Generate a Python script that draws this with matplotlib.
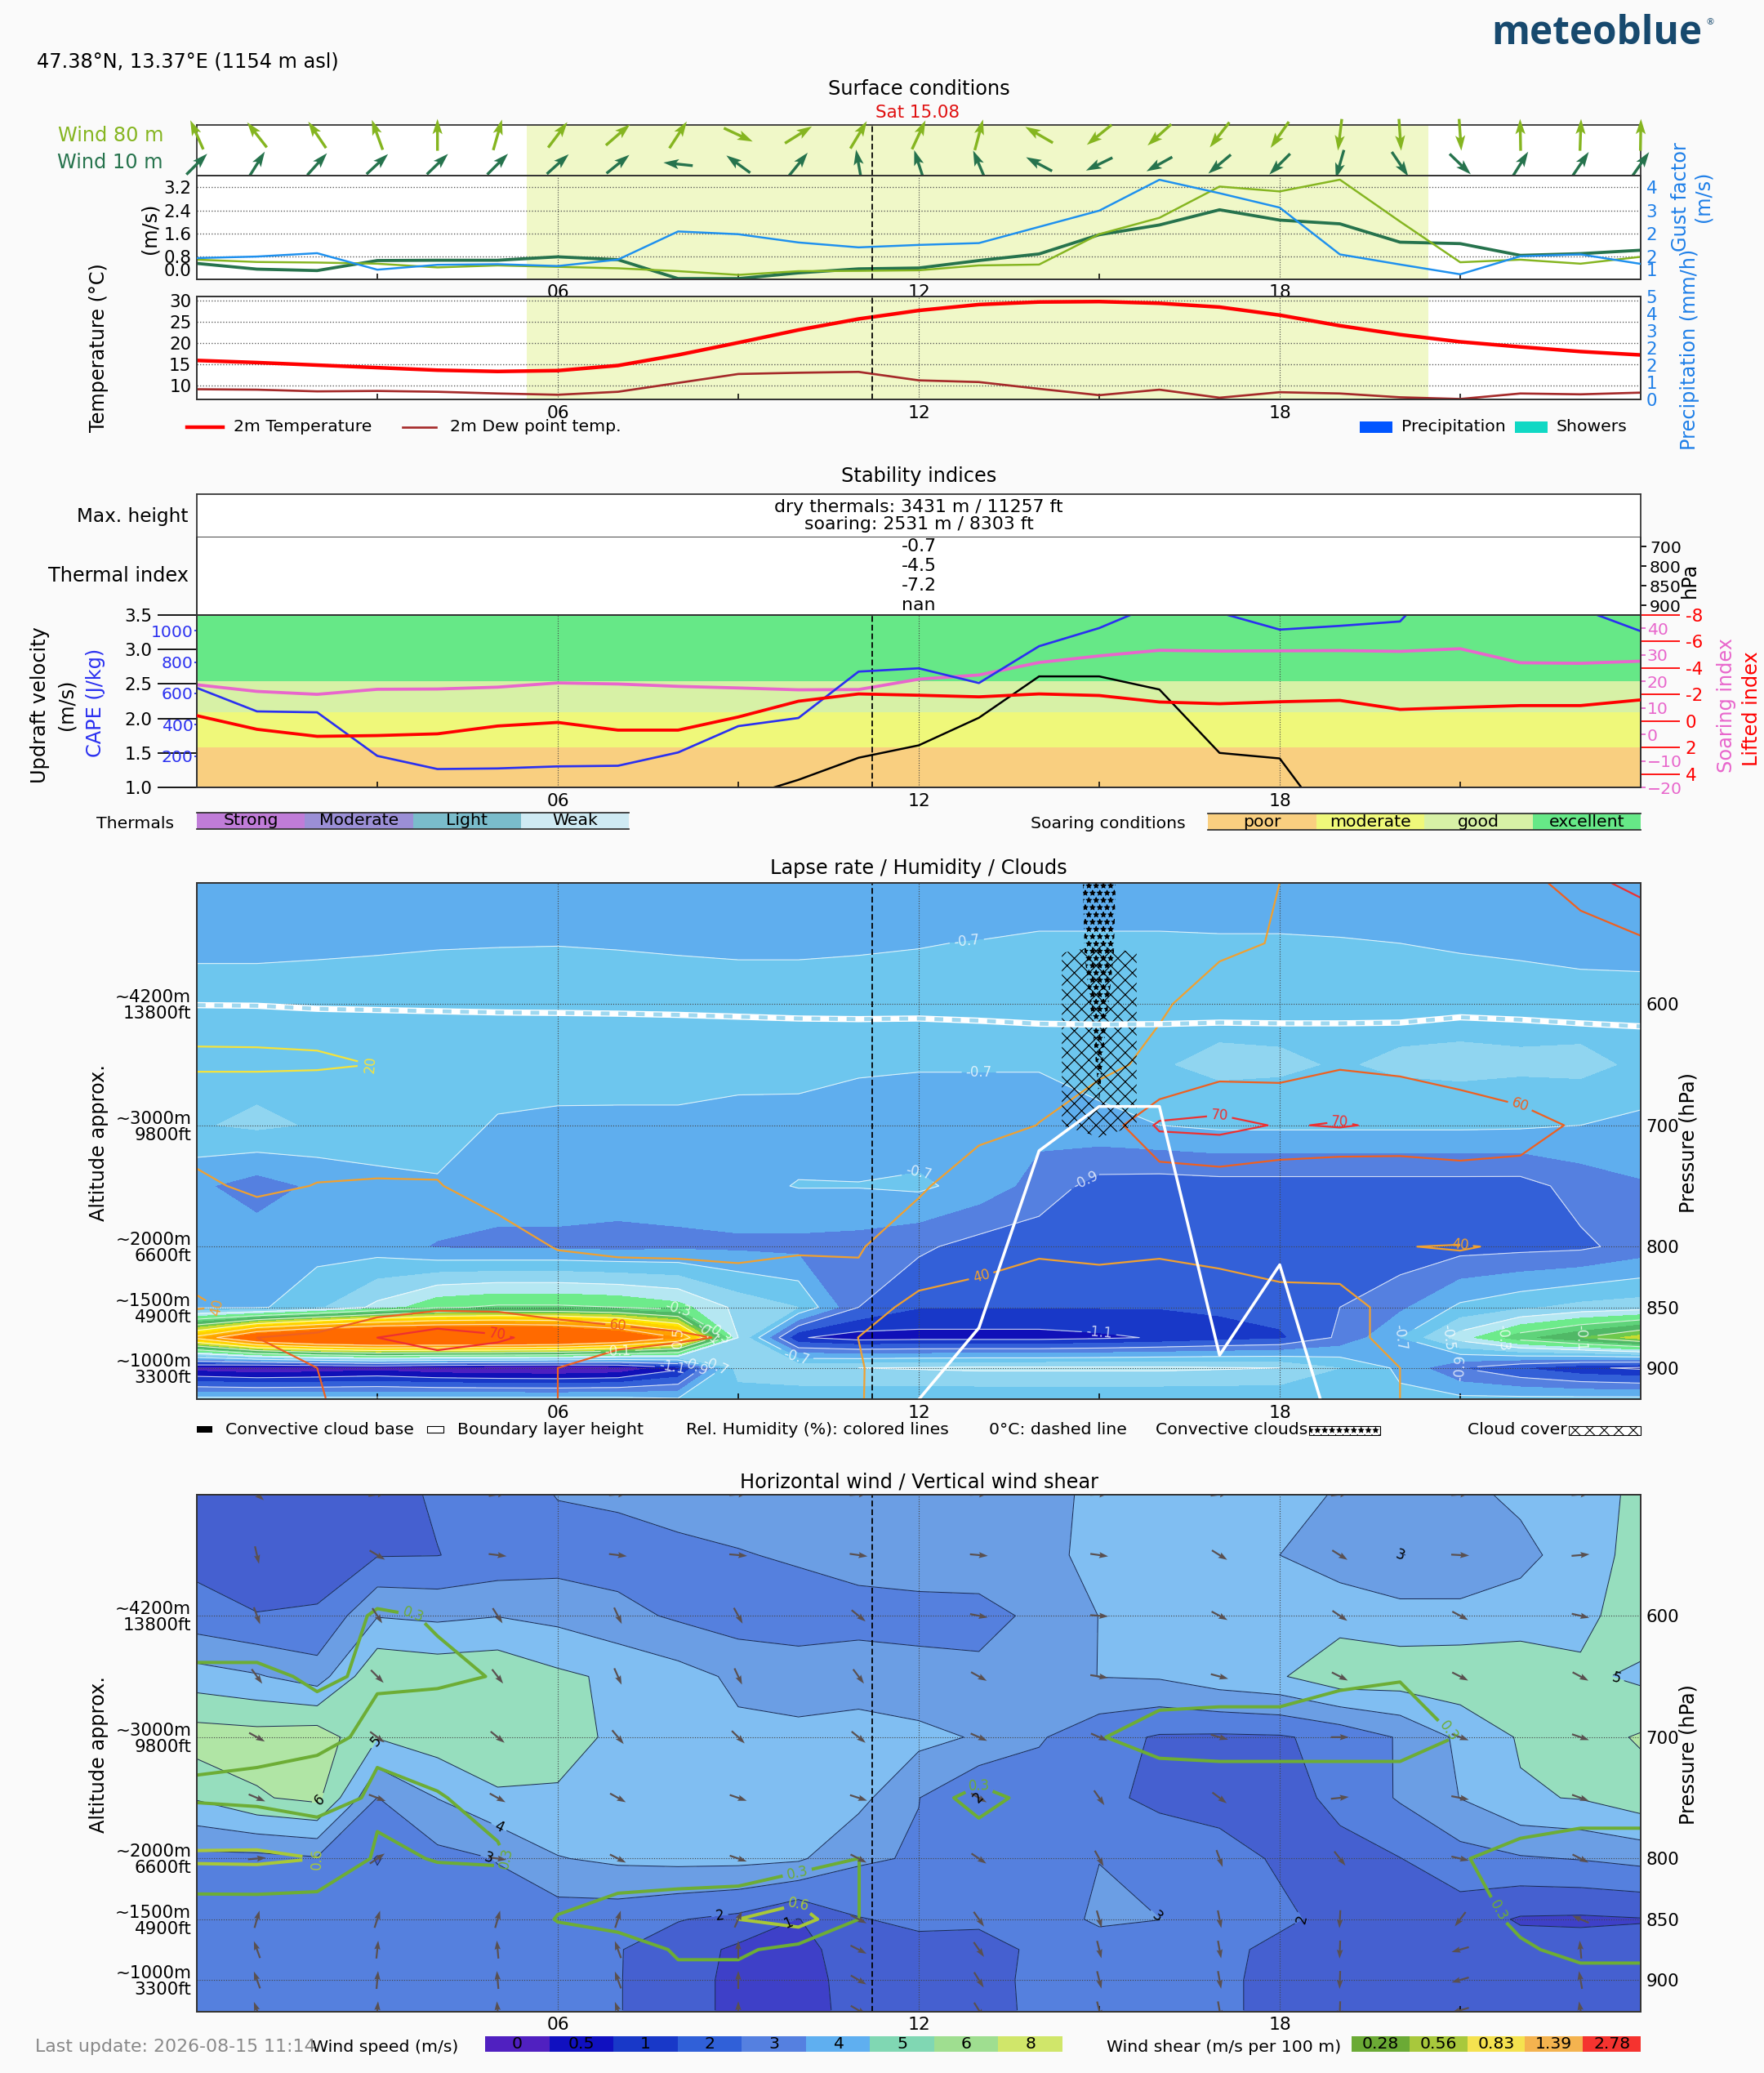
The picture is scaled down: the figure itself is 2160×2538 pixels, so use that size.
import numpy as np
import matplotlib
matplotlib.use("Agg")
import matplotlib.pyplot as plt
from matplotlib.lines import Line2D
from matplotlib.patches import Rectangle

W, H = 2160, 2538
DPI = 160
BG = "#fafafa"

########################
# hourly series

hours = np.arange(25)
now_hour = 11.23
sunrise, sunset = 5.48, 20.47

wind80_dir = [114, 128, 124, 110, 90, 74, 53, 41, 57, -25, 32, 59, 65, 75, 150, -141, -138, -128, -125, -97, -86, -86, 91, 88, 89]
wind10_dir = [45, 58, 48, 43, 44, 45, 42, 39, 174, 144, 51, 100, 108, 113, 152, -154, -151, -140, -135, -106, -56, -44, 58, 56, 55]

wind80 = [.68, .60, .58, .54, .41, .48, .43, .38, .28, .15, .28, .29, .31, .48, .51, 1.57, 2.14, 3.23, 3.06, 3.47, 2.01, .59, .68, .54, .78]
wind10 = [.55, .35, .30, .65, .66, .66, .78, .68, .02, .02, .22, .36, .39, .65, .88, 1.55, 1.89, 2.42, 2.06, 1.93, 1.29, 1.24, .83, .89, 1.01]
gust = [1.69, 1.74, 1.85, 1.31, 1.47, 1.49, 1.43, 1.64, 2.56, 2.47, 2.20, 2.04, 2.12, 2.18, 2.71, 3.24, 4.25, 3.81, 3.34, 1.81, 1.48, 1.16, 1.75, 1.81, 1.50]

temp2m = [15.9, 15.4, 14.8, 14.2, 13.6, 13.3, 13.5, 14.7, 17.2, 20.1, 23.1, 25.7, 27.7, 29.1, 29.7, 29.8, 29.4, 28.5, 26.6, 24.1, 22.0, 20.3, 19.1, 18.0, 17.2]
dewpoint = [9.1, 9.0, 8.6, 8.7, 8.5, 8.1, 7.8, 8.5, 10.6, 12.7, 13.0, 13.2, 11.2, 10.8, 9.2, 7.7, 9.0, 7.1, 8.4, 8.1, 7.2, 6.8, 8.1, 7.9, 8.3]

updraft = [0, 0, 0, 0, 0, 0, 0, 0, 0, .84, 1.11, 1.43, 1.61, 2.01, 2.61, 2.61, 2.42, 1.50, 1.42, .25, 0, 0, 0, 0, 0]
lifted = [-.41, .62, 1.15, 1.09, .96, .37, .10, .68, .68, -.31, -1.5, -2.05, -1.95, -1.83, -2.05, -1.93, -1.44, -1.31, -1.46, -1.56, -.88, -1.03, -1.17, -1.17, -1.6]
soaring = [18.7, 16.2, 15.1, 17.0, 17.1, 17.8, 19.4, 19.0, 18.1, 17.5, 16.8, 16.9, 20.8, 22.4, 27.1, 29.6, 31.7, 31.4, 31.5, 31.6, 31.3, 32.3, 27.0, 26.8, 27.6]
cape = [635, 485, 479, 201, 117, 121, 134, 138, 223, 391, 443, 739, 760, 666, 901, 1017, 1178, 1115, 1007, 1031, 1059, 1470, 1500, 1140, 997]

soaring_bounds = [-20, -4.8, 8.2, 20.1, 45]
soaring_colors = ["#f9cf80", "#eff87a", "#d7f1a6", "#66e887"]
soaring_names = ["poor", "moderate", "good", "excellent"]
thermal_colors = ["#c07cd8", "#9b8fd6", "#7abccb", "#cfeaf3"]
thermal_names = ["Strong", "Moderate", "Light", "Weak"]
index_levels = [700, 800, 850, 900]
index_values = ["-0.7", "-4.5", "-7.2", "nan"]

boundary_layer = [1000, 1000, 1000, 1000, 1000, 1000, 1000, 1000, 1000, 1000, 1000, 1000, 926, 867, 721, 684.5, 684.5, 889.5, 815, 979, 1000, 1000, 1000, 1000, 1000]
freezing_level = [601, 601.5, 604, 605, 606, 607, 607.4, 608, 609, 610.5, 612, 612.5, 612, 613.8, 616.3, 617, 616.6, 615.4, 616, 616, 615.4, 611, 613, 616, 618.5]

########################
# pressure / hour fields

pressure = [500, 550, 600, 650, 700, 750, 800, 850, 875, 900, 925]
pressure_ticks = [600, 700, 800, 850, 900]
altitude_labels = ["~4200m\n13800ft", "~3000m\n9800ft", "~2000m\n6600ft", "~1500m\n4900ft", "~1000m\n3300ft"]

lapse_rate = [
    [-.80, -.80, -.80, -.80, -.80, -.80, -.80, -.80, -.80, -.80, -.80, -.80, -.80, -.79, -.78, -.78, -.78, -.78, -.78, -.79, -.79, -.80, -.80, -.80, -.80],
    [-.72, -.72, -.715, -.71, -.705, -.703, -.702, -.705, -.71, -.715, -.715, -.71, -.705, -.695, -.68, -.68, -.68, -.685, -.685, -.69, -.70, -.71, -.72, -.73, -.735],
    [-.66, -.66, -.66, -.66, -.66, -.66, -.66, -.66, -.66, -.66, -.66, -.66, -.65, -.64, -.64, -.65, -.65, -.65, -.65, -.65, -.65, -.65, -.65, -.66, -.66],
    [-.64, -.64, -.64, -.64, -.64, -.66, -.66, -.66, -.66, -.66, -.66, -.68, -.69, -.69, -.69, -.66, -.61, -.572, -.58, -.61, -.58, -.57, -.58, -.57, -.62],
    [-.61, -.58, -.61, -.66, -.66, -.709, -.719, -.72, -.72, -.74, -.743, -.77, -.77, -.77, -.77, -.727, -.70, -.68, -.68, -.68, -.68, -.68, -.685, -.70, -.727],
    [-.78, -.85, -.78, -.72, -.71, -.76, -.76, -.76, -.76, -.73, -.695, -.695, -.68, -.74, -.84, -.94, -.95, -.94, -.94, -.94, -.94, -.94, -.94, -.86, -.81],
    [-.74, -.74, -.74, -.75, -.81, -.82, -.82, -.83, -.82, -.82, -.83, -.84, -.88, -.94, -.96, -.97, -.97, -.97, -.97, -.97, -.97, -.94, -.93, -.92, -.86],
    [-.72, -.72, -.62, -.47, -.32, -.28, -.28, -.30, -.36, -.53, -.60, -.90, -.995, -.995, -.995, -.995, -.995, -.98, -.95, -.90, -.82, -.68, -.62, -.57, -.55],
    [.35, .80, 1.0, 1.1, 1.1, 1.1, 1.05, .85, .50, -.50, -1.09, -1.15, -1.14, -1.14, -1.14, -1.12, -1.09, -1.05, -1.02, -.88, -.70, -.45, -.24, -.10, .05],
    [-1.26, -1.30, -1.28, -1.25, -1.30, -1.32, -1.33, -1.30, -1.13, -.55, -.52, -.50, -.49, -.48, -.48, -.48, -.48, -.49, -.50, -.60, -.72, -.90, -1.0, -1.08, -1.12],
    [-.68, -.68, -.68, -.68, -.68, -.68, -.68, -.68, -.70, -.66, -.66, -.67, -.68, -.68, -.68, -.68, -.68, -.68, -.68, -.66, -.68, -.68, -.68, -.68, -.68],
]
lapse_bounds = [-2, -1.2, -1.1, -1.0, -.9, -.8, -.7, -.6, -.5, -.4, -.3, -.2, -.1, 0, .1, .2, .3, .4, .5, .6, 2]
lapse_colors = ["#4e20c0", "#1010b8", "#1838c8", "#3360d8", "#5580e0", "#5faeee", "#6dc6ee", "#90d5f0", "#b5e7f2", "#6deb8b",
                "#5fd37a", "#50b866", "#6dc84c", "#c8dc30", "#ffe600", "#ffd000", "#ffb800", "#ffa000", "#ff8c00", "#ff6a00"]
lapse_lines = [-1.1, -.9, -.7, -.5, -.3, -.1, .1, .3, .5]
lapse_label_spots = [(12.8, 549), (13, 653), (12, 737), (14.8, 748), (15, 869), (10, 888), (7, 887), (8, 875), (8, 850), (7.9, 899),
                     (8.28, 899), (8.62, 899), (8.46, 874), (8.65, 873), (20, 875), (20.8, 875), (21.7, 875), (23, 875), (20.9, 899)]

humidity = [
    [30, 30, 30, 30, 30, 30, 30, 30, 30, 30, 30, 31, 31, 32, 32, 33, 34, 35, 40, 45, 48, 50, 55, 66, 74],
    [26, 26, 26, 26, 27, 27, 28, 28, 28, 29, 29, 30, 30, 31, 31, 32, 34, 37, 41, 44, 46, 48, 50, 53, 58],
    [24.7, 25, 25, 25, 26, 27, 28, 28, 29, 29, 30, 30, 31, 31, 32, 33, 38, 47, 50, 52, 52, 50, 48, 47, 46],
    [18, 18, 18.5, 20.2, 24, 27, 28, 29, 30, 30, 30, 31, 32, 33, 36, 36, 44, 55, 56, 59, 58, 55, 52, 48, 45],
    [35, 35, 35, 33, 33, 33, 32, 31, 31, 31, 31, 31, 33, 36, 40.2, 52, 72, 73, 69.25, 70.75, 68.25, 67, 64, 58.5, 52],
    [42, 38, 40.3, 41, 40.8, 33, 32, 31, 31, 31, 32, 35, 38, 48, 58, 55, 52, 54, 53, 50, 52, 55, 56, 52, 48],
    [44, 49, 49, 50, 50, 48, 39, 37, 37, 37, 39, 39, 48, 45, 42, 43, 42, 44, 47, 48, 40.2, 39.5, 41, 44, 46],
    [39, 42, 50, 55, 58, 58, 56, 54, 52, 48, 46, 44.5, 37, 35, 32, 33, 32, 33, 35, 35, 45, 47, 48, 48, 48],
    [55, 60, 62, 70, 75, 71.5, 66, 64, 62, 58.4, 50, 39.9, 33, 33, 32, 32, 32, 33, 34, 35, 45, 47, 48, 50, 50],
    [45, 50, 60, 62, 63, 62, 60, 54, 50, 48, 44, 41, 31, 30, 30, 30, 30, 31, 32, 33, 40, 46, 48, 50, 50],
    [42, 48, 59.5, 63, 63, 62, 60, 52, 48, 46, 43, 41, 30, 30, 30, 30, 30, 31, 32, 33, 40, 45, 47, 48, 48],
]
humidity_levels = [20, 40, 60, 70]
humidity_colors = ["#f5e33c", "#f0a030", "#ee6020", "#ee3030"]
humidity_label_spots = [(3.0, 648), (.45, 849), (13, 818), (21, 799), (7, 865), (22, 683), (5, 871), (17, 690), (19, 695)]

cloud_hours = [14, 15, 16]
cloud_pressure = [540, 552, 558, 700, 710, 720]
cloud_cover = [[0, 0, 0], [0, .5, 0], [0, 1.32, 0], [0, 1.32, 0], [0, .5, 0], [0, 0, 0]]
convective_pressure = [495, 560, 620, 680, 690]
convective_clouds = [[0, .69, 0], [0, .66, 0], [0, .56, 0], [0, .5, 0], [0, .3, 0]]

wind_speed = [
    [1.6, 1.6, 1.6, 1.7, 2.1, 2.4, 3.05, 3.2, 3.3, 3.4, 3.5, 3.6, 3.7, 3.8, 3.9, 4.07, 4.3, 4.3, 4.2, 3.95, 3.5, 3.7, 4.25, 4.6, 5.2],
    [1.7, 1.7, 1.75, 1.95, 1.98, 2.3, 2.55, 2.53, 2.82, 2.95, 3.1, 3.2, 3.3, 3.35, 3.7, 4.3, 4.5, 4.3, 4.0, 3.5, 2.99, 3.1, 3.65, 4.6, 5.3],
    [2.38, 2.02, 2.06, 3.95, 3.8, 3.97, 3.73, 3.31, 2.85, 2.5, 2.6, 2.8, 2.8, 2.8, 3.13, 4.02, 4.4, 4.5, 4.6, 4.6, 4.39, 4.35, 4.57, 4.7, 5.6],
    [4.45, 4.1, 3.5, 5.9, 5.7, 5.8, 5.2, 4.81, 4.4, 3.8, 3.4, 3.3, 3.2, 3.14, 3.5, 4.02, 4.1, 4.6, 4.9, 5.7, 5.6, 5.7, 5.6, 5.2, 4.8],
    [6.5, 6.4, 6.6, 5.05, 5.5, 5.7, 5.3, 4.85, 4.75, 4.2, 4.3, 4.6, 4.3, 3.9, 3.1, 2.37, 1.9, 1.85, 1.9, 2.3, 3.1, 4.2, 5.1, 5.6, 6.1],
    [5.1, 5.9, 6.25, 2.98, 4.02, 4.85, 4.9, 4.7, 4.7, 4.6, 4.6, 4.3, 3.02, 1.98, 2.5, 2.1, 1.9, 1.7, 1.6, 2.25, 3.1, 4.02, 4.9, 5.05, 5.6],
    [2.7, 2.7, 2.9, 1.95, 2.7, 3.03, 3.95, 4.2, 4.3, 4.3, 4.15, 3.15, 2.9, 2.5, 2.6, 2.99, 2.3, 2.3, 1.9, 1.7, 1.98, 2.6, 2.9, 3.05, 3.3],
    [2.5, 2.5, 2.5, 2.4, 2.4, 2.7, 2.45, 2.4, 2.05, 1.75, .97, 1.95, 2.2, 2.1, 2.7, 3.1, 3.01, 2.8, 2.15, 1.75, 1.6, 1.5, .9, .85, .95],
    [2.5, 2.5, 2.5, 2.5, 2.4, 2.4, 2.3, 2.05, 1.5, .8, .75, 1.4, 1.7, 1.8, 2.1, 2.7, 2.6, 2.2, 1.8, 1.7, 1.6, 1.5, 1.4, 1.4, 1.3],
    [2.5, 2.5, 2.5, 2.5, 2.4, 2.4, 2.2, 2.05, 1.4, .75, .7, 1.3, 1.6, 1.7, 2.2, 2.5, 2.5, 2.2, 1.7, 1.7, 1.6, 1.5, 1.4, 1.4, 1.3],
    [2.5, 2.5, 2.5, 2.5, 2.4, 2.4, 2.2, 2.05, 1.4, .75, .7, 1.25, 1.6, 1.65, 2.2, 2.5, 2.5, 2.2, 1.7, 1.7, 1.6, 1.5, 1.4, 1.4, 1.3],
]
speed_bounds = [0, .5, 1, 2, 3, 4, 5, 6, 8, 12]
speed_colors = ["#4e20c0", "#3e40c8", "#4560d0", "#5580de", "#6b9ee4", "#80bef2", "#96debe", "#b0e5a5", "#d4e66f"]
speed_lines = [1, 2, 3, 4, 5, 6]
speed_label_spots = [(20, 550), (4.85, 800), (5, 776), (3, 704), (2.1, 755), (8.7, 850), (9.8, 850), (15.95, 848), (18.5, 852), (13, 750), (23.6, 650)]

shear = [
    [.1] * 25,
    [.1, .1, .1, .15, .15, .1, .1, .1, .1, .1, .1, .1, .1, .1, .1, .1, .1, .1, .1, .1, .1, .1, .1, .1, .1],
    [.2, .2, .2, .32, .29, .25, .2, .15, .15, .15, .15, .15, .15, .15, .15, .15, .15, .15, .15, .15, .15, .15, .15, .15, .15],
    [.33, .33, .28, .32, .32, .295, .2, .15, .15, .15, .15, .15, .15, .15, .15, .15, .2, .2, .2, .27, .29, .22, .15, .15, .15],
    [.35, .36, .36, .25, .22, .2, .15, .1, .1, .1, .1, .1, .1, .1, .2, .29, .38, .4, .4, .4, .4, .29, .2, .2, .2],
    [.27, .24, .16, .35, .31, .25, .2, .15, .15, .15, .15, .15, .23, .35, .25, .2, .15, .15, .15, .15, .15, .2, .2, .2, .2],
    [.65, .66, .6, .26, .31, .32, .18, .1, .05, .05, .17, .301, .2, .2, .2, .15, .15, .15, .15, .15, .15, .29, .35, .4, .4],
    [.05, .05, .05, .15, .15, .15, .31, .45, .55, .6, .74, .301, .2, .2, .2, .15, .15, .15, .15, .15, .15, .15, .36, .4, .4],
    [.05, .05, .05, .05, .05, .05, .2, .1, .34, .35, .2, .1, .1, .1, .1, .1, .1, .1, .1, .1, .1, .1, .26, .38, .38],
    [.05, .05, .05, .05, .05, .05, .1, .1, .22, .2, .1, .1, .1, .1, .1, .1, .1, .1, .1, .1, .1, .2, .2, .2, .2],
    [.05, .05, .05, .05, .05, .05, .05, .1, .1, .1, .1, .1, .1, .1, .1, .1, .1, .1, .1, .1, .1, .1, .1, .1, .1],
]
shear_levels = [.3, .6]
shear_colors = ["#6dad35", "#a8c838"]
shear_label_spots = [(3.6, 598), (5.3, 801), (10, 816), (13, 735), (21, 686), (21.4, 849), (2.2, 800), (10, 837)]

# arrow rows of the wind panel, every second hour, direction in degrees on screen
arrow_hours = [1, 3, 5, 7, 9, 11, 13, 15, 17, 19, 21, 23]
arrow_dir = [
    [-40, 10, 10, 5, 5, 5, 3, 3, 8, 8, 5, 5],
    [-77, -31, -7, -7, -5, -8, -5, -8, -32, -32, -3, 5],
    [-70, -57, -57, -65, -61, -39, -11, -4, -28, -34, -28, -13],
    [-54, -45, -52, -66, -65, -53, -29, -9, -15, -27, -27, -28],
    [-29, -37, -39, -50, -44, -39, -24, -24, -16, 0, -20, -19],
    [-23, -21, -29, -29, -19, -18, -30, -55, -37, 6, -11, -20],
    [5, 34, -8, -27, -19, -27, -34, -61, -70, -52, -13, -27],
    [74, 72, 74, 72, 66, -27, -55, -74, -79, -93, -127, 157],
    [110, 84, 95, 110, 90, -27, -55, -76, -80, -92, -164, 95],
    [110, 85, 95, 110, 90, -30, -58, -76, -80, -92, -164, 100],
    [110, 85, 95, 110, 90, -30, -58, -76, -80, -92, -164, 100],
]

speed_strip_colors = ["#5020c0", "#1010c0", "#1838c8", "#3060d8", "#5580e0", "#5fafF0", "#80d7b3", "#9fde90", "#d0e66a"]
speed_strip_labels = ["0", "0.5", "1", "2", "3", "4", "5", "6", "8"]
shear_strip_colors = ["#6baa35", "#a8c83c", "#f5e24f", "#f4b34f", "#f5332f"]
shear_strip_labels = ["0.28", "0.56", "0.83", "1.39", "2.78"]

########################

plt.rcParams["font.family"] = ["DejaVu Sans"]
plt.rcParams["font.size"] = 10.8
plt.rcParams["xtick.labelsize"] = 9.8
plt.rcParams["ytick.labelsize"] = 9.6
plt.rcParams["hatch.linewidth"] = 0.5
plt.rcParams["axes.linewidth"] = 0.8
plt.rcParams["axes.edgecolor"] = "#333333"

fig = plt.figure(figsize=(W / DPI, H / DPI), dpi=DPI, facecolor=BG)


def ax_px(left, top, right, bottom):
    return fig.add_axes([left / W, 1 - bottom / H, (right - left) / W, (bottom - top) / H])


def ftext(x, y, s, **kw):
    kw.setdefault("va", "center")
    return fig.text(x / W, 1 - y / H, s, **kw)


def rect_px(left, top, right, bottom, **kw):
    fig.add_artist(Rectangle((left / W, 1 - bottom / H), (right - left) / W, (bottom - top) / H,
                             transform=fig.transFigure, **kw))


def line_px(x0, x1, y, **kw):
    fig.add_artist(Line2D([x0 / W, x1 / W], [1 - y / H] * 2, transform=fig.transFigure, **kw))


def hour_axis(ax, labels=True):
    ax.set_xlim(0, 24)
    ax.set_xticks([6, 12, 18])
    ax.set_xticklabels(["06", "12", "18"] if labels else [])
    ax.set_xticks([3, 9, 15, 21], minor=True)
    ax.tick_params(axis="x", which="major", length=0, pad=3)
    ax.tick_params(axis="x", which="minor", direction="in", length=3, width=0.7)
    ax.grid(True, axis="x", ls=":", lw=0.5, color="#444444")
    ax.axvline(now_hour, color="black", ls="--", lw=0.8, dashes=(4, 2), zorder=4)


def strip(left, top, right, bottom, colors, labels, frame=False):
    ax = ax_px(left, top, right, bottom)
    ax.bar(range(len(colors)), [1] * len(colors), width=1, color=colors)
    for i, label in enumerate(labels):
        ax.text(i, .5, label, ha="center", va="center", fontsize=9.2)
    ax.set_xlim(-.5, len(colors) - .5)
    ax.set_ylim(0, 1)
    ax.set_xticks([])
    ax.set_yticks([])
    for s in ax.spines.values():
        s.set_visible(False)
    if frame:
        ax.spines["top"].set_visible(True)
        ax.spines["bottom"].set_visible(True)
    return ax


# header
ftext(45, 75, "47.38°N, 13.37°E (1154 m asl)")
ftext(1826, 42, "meteoblue", fontsize=21.5, fontweight="bold", color="#17496e", family="Open Sans", ha="left")
ftext(2088, 27, "®", fontsize=5, color="#17496e")
ftext(1125, 109, "Surface conditions", ha="center")
ftext(1124, 138, "Sat 15.08", fontsize=9.6, ha="center", color="#e01010")

# wind arrows
ax_arrows = ax_px(241, 152.5, 2009, 215.4)
hour_axis(ax_arrows, labels=False)
ax_arrows.grid(False)
ax_arrows.tick_params(axis="x", which="both", length=0)
ax_arrows.set_ylim(0, 1)
ax_arrows.set_yticks([])
ax_arrows.axvspan(sunrise, sunset, color="#f0f8c8", lw=0, zorder=0)
r80 = np.radians(wind80_dir)
r10 = np.radians(wind10_dir)
ax_arrows.quiver(hours, [.80] * 25, np.cos(r80), np.sin(r80), angles="uv", pivot="mid", units="dots",
                 scale_units="dots", scale=1 / 39, width=3.4, headwidth=3.6, headlength=5.5, headaxislength=4.6,
                 color="#85b520", clip_on=False, zorder=3)
ax_arrows.quiver(hours, [.23] * 25, np.cos(r10), np.sin(r10), angles="uv", pivot="mid", units="dots",
                 scale_units="dots", scale=1 / 36, width=3.4, headwidth=3.6, headlength=5.5, headaxislength=4.6,
                 color="#26734d", clip_on=False, zorder=3)
ftext(200, 166, "Wind 80 m", ha="right", color="#85b520")
ftext(200, 199, "Wind 10 m", ha="right", color="#26734d")

# wind speed
ax_speed = ax_px(241, 215.4, 2009, 341.8)
hour_axis(ax_speed)
ax_speed.axvspan(sunrise, sunset, color="#f0f8c8", lw=0, zorder=0)
ax_speed.plot(hours, wind10, color="#26734d", lw=1.7, zorder=3)
ax_speed.plot(hours, wind80, color="#85b520", lw=1.1, zorder=3)
ax_speed.set_ylim(0, 3.6)
ax_speed.set_yticks([0, .8, 1.6, 2.4, 3.2])
ax_speed.set_yticklabels(["0.0", "0.8", "1.6", "2.4", "3.2"])
ax_speed.get_yticklabels()[0].set_va("bottom")
ax_speed.tick_params(axis="y", length=0, pad=3)
ax_speed.grid(True, axis="y", ls=":", lw=0.6, color="#555555")
ax_speed.set_axisbelow(True)
ax_gust = ax_speed.twinx()
ax_gust.plot(hours, gust, color="#1e90ee", lw=1.1, zorder=4)
ax_gust.set_ylim(1, 4.375)
ax_gust.set_yticks([1, 1.75, 2.5, 3.25, 4])
ax_gust.set_yticklabels(["1", "2", "2", "3", "4"])
ax_gust.get_yticklabels()[0].set_va("bottom")
ax_gust.tick_params(axis="y", length=0, pad=3, colors="#1e7fe8")
ftext(183, 280, "(m/s)", rotation=90, ha="center")
ftext(2058, 241, "Gust factor", rotation=90, ha="center", color="#1e7fe8")
ftext(2085, 241, "(m/s)", rotation=90, ha="center", color="#1e7fe8")

# temperature
ax_temp = ax_px(241, 363, 2009, 489)
hour_axis(ax_temp)
ax_temp.axvspan(sunrise, sunset, color="#f0f8c8", lw=0, zorder=0)
ax_temp.plot(hours, temp2m, color="#ff0000", lw=2.0, zorder=3)
ax_temp.plot(hours, dewpoint, color="#a52a2a", lw=1.2, zorder=3)
ax_temp.set_ylim(6.7, 31)
ax_temp.set_yticks([10, 15, 20, 25, 30])
ax_temp.tick_params(axis="y", length=0, pad=3)
ax_temp.grid(True, axis="y", ls=":", lw=0.6, color="#555555")
ax_temp.set_axisbelow(True)
ax_precip = ax_temp.twinx()
ax_precip.set_ylim(0, 5)
ax_precip.set_yticks(np.linspace(0, 5, 7))
ax_precip.set_yticklabels(["0", "1", "2", "2", "3", "4", "5"])
ax_precip.tick_params(axis="y", length=0, pad=3, colors="#1e7fe8")
ftext(121, 426, "Temperature (°C)", rotation=90, ha="center")
ftext(2069, 428, "Precipitation (mm/h)", rotation=90, ha="center", color="#1e7fe8")

line_px(229, 273, 523, color="#ff0000", lw=2.0)
ftext(286, 523, "2m Temperature", fontsize=9.2)
line_px(493, 534, 523, color="#a52a2a", lw=1.2)
ftext(551, 523, "2m Dew point temp.", fontsize=9.2)
rect_px(1665, 516, 1705, 530, color="#0055ff", lw=0)
ftext(1716, 523, "Precipitation", fontsize=9.2)
rect_px(1855, 516, 1895, 530, color="#10d8c4", lw=0)
ftext(1906, 523, "Showers", fontsize=9.2)

# stability
ftext(1125, 583, "Stability indices", ha="center")
ax_height = ax_px(241, 605, 2009, 658)
ax_height.set_xlim(0, 24)
ax_height.set_ylim(0, 1)
ax_height.set_xticks([])
ax_height.set_yticks([])
ax_height.text(12, .5, "dry thermals: 3431 m / 11257 ft\nsoaring: 2531 m / 8303 ft", ha="center", va="center", fontsize=9.9, linespacing=1.05)
ftext(230, 632, "Max. height", ha="right", fontsize=10.4)

ax_index = ax_px(241, 658, 2009, 753)
ax_index.set_xlim(0, 24)
ax_index.set_ylim(3.5, -.46)
ax_index.set_xticks([])
ax_index.spines["bottom"].set_visible(False)
ax_index.spines["top"].set_visible(False)
ax_index.set_yticks([])
ax_index_r = ax_index.twinx()
ax_index_r.set_ylim(3.5, -.46)
ax_index_r.set_yticks(range(len(index_levels)))
ax_index_r.set_yticklabels(index_levels)
ax_index_r.spines["top"].set_visible(False)
ax_index_r.spines["bottom"].set_visible(False)
ax_index_r.tick_params(axis="y", length=3, pad=2, labelsize=9.2)
for i, v in enumerate(index_values):
    ax_index.text(12, i, v, ha="center", va="center", fontsize=9.9)
ftext(231, 705, "Thermal index", ha="right")
ftext(2069, 710, "hPa", rotation=90, ha="center")

ax_soar = ax_px(241, 753, 2009, 964)
hour_axis(ax_soar)
ax_soar.set_ylim(soaring_bounds[0], soaring_bounds[-1])
for i, c in enumerate(soaring_colors):
    ax_soar.axhspan(soaring_bounds[i], soaring_bounds[i + 1], color=c, lw=0, zorder=0)
ax_soar.set_yticks([-20, -10, 0, 10, 20, 30, 40])
ax_soar.plot(hours, soaring, color="#e866cc", lw=1.7, zorder=3)

ax_up = ax_soar.twinx()
ax_up.yaxis.tick_left()
ax_up.plot(hours, updraft, color="black", lw=1.1, zorder=3)
ax_up.set_ylim(1, 3.5)
ax_up.set_yticks([1, 1.5, 2, 2.5, 3, 3.5])
ax_up.tick_params(axis="y", length=21.6, pad=3)

ax_cape = ax_soar.twinx()
ax_cape.yaxis.tick_left()
ax_cape.plot(hours, cape, color="#2a30f0", lw=1.2, zorder=3)
ax_cape.set_ylim(0, 1100)
ax_cape.set_yticks([200, 400, 600, 800, 1000])
ax_cape.tick_params(axis="y", length=1.5, pad=0.5, colors="#2a30f0", labelsize=9.2)

ax_li = ax_soar.twinx()
ax_li.plot(hours, lifted, color="#ff0000", lw=1.7, zorder=3)
ax_li.set_ylim(5, -8)
ax_li.set_yticks([-8, -6, -4, -2, 0, 2, 4])
ax_li.set_yticklabels(["-8", "-6", "-4", "-2", "0", "2", "4"])
ax_li.tick_params(axis="y", length=21.6, pad=3, colors="#ff0000")

# twinx moves the base axis ticks to the left, so put them back afterwards
ax_soar.yaxis.tick_right()
ax_soar.tick_params(axis="y", length=2.5, pad=1, colors="#e866cc", labelsize=9.2)

ftext(49, 863, "Updraft velocity", rotation=90, ha="center")
ftext(81, 863, "(m/s)", rotation=90, ha="center")
ftext(117, 860, "CAPE (J/kg)", rotation=90, ha="center", color="#2a30f0")
ftext(2114, 863, "Soaring index", rotation=90, ha="center", color="#e866cc")
ftext(2145, 868, "Lifted index", rotation=90, ha="center", color="#ff0000")

strip(241, 995, 770, 1015, thermal_colors, thermal_names, frame=True)
ftext(213, 1008, "Thermals", ha="right", fontsize=9.2)
strip(1479, 996, 2009, 1016, soaring_colors, soaring_names, frame=True)
ftext(1452, 1008, "Soaring conditions", ha="right", fontsize=9.2)

# lapse rate
ftext(1125, 1063, "Lapse rate / Humidity / Clouds", ha="center")
ax_lapse = ax_px(241, 1080.6, 2009, 1713.4)
ax_lapse.contourf(hours, pressure, lapse_rate, levels=lapse_bounds, colors=lapse_colors)
cs = ax_lapse.contour(hours, pressure, lapse_rate, levels=lapse_lines, colors="white", linewidths=0.5, linestyles="solid", alpha=0.75)
ax_lapse.set_ylim(926, 500)
hour_axis(ax_lapse)
ax_lapse.clabel(cs, fmt="%.1f", fontsize=7.5, colors="white", manual=lapse_label_spots)
rh = ax_lapse.contour(hours, pressure, humidity, levels=humidity_levels, colors=humidity_colors, linewidths=1.0)
ax_lapse.clabel(rh, fmt="%d", fontsize=7.5, manual=humidity_label_spots)
ax_lapse.contourf(cloud_hours, cloud_pressure, cloud_cover, levels=[.5, 3], colors="none", hatches=["xxx"], zorder=3)
ax_lapse.contourf(cloud_hours, convective_pressure, convective_clouds, levels=[.5, 3], colors="none", hatches=["***"], zorder=3)
ax_lapse.plot(hours, boundary_layer, color="white", lw=1.6, zorder=4)
ax_lapse.plot(hours, freezing_level, color="white", lw=3.4, zorder=3)
ax_lapse.plot(hours, freezing_level, color="#9fd8f0", lw=2.2, ls=(0, (2.2, 2.2)), zorder=3)


def pressure_axis(ax):
    ax.set_yticks(pressure_ticks)
    ax.set_yticklabels(altitude_labels, linespacing=1.0)
    ax.tick_params(axis="y", length=0, pad=3)
    ax.grid(True, axis="y", ls=":", lw=0.5, color="#444444")
    right = ax.twinx()
    right.set_ylim(ax.get_ylim())
    right.set_yticks(pressure_ticks)
    right.tick_params(axis="y", length=0, pad=3)


pressure_axis(ax_lapse)
ftext(121, 1399, "Altitude approx.", rotation=90, ha="center")
ftext(2068, 1399, "Pressure (hPa)", rotation=90, ha="center")

rect_px(241, 1746, 260, 1754, color="black", lw=0)
ftext(276, 1751, "Convective cloud base", fontsize=9.2)
rect_px(523, 1746, 543, 1754, facecolor="white", edgecolor="black", lw=0.5)
ftext(560, 1751, "Boundary layer height", fontsize=9.2)
ftext(840, 1751, "Rel. Humidity (%): colored lines", fontsize=9.2)
ftext(1211, 1751, "0°C: dashed line", fontsize=9.2)
ftext(1415, 1751, "Convective clouds", fontsize=9.2)
rect_px(1603, 1746, 1690, 1757, facecolor="white", edgecolor="black", lw=0.5, hatch="***")
ftext(1797, 1751, "Cloud cover", fontsize=9.2)
rect_px(1921, 1746, 2009, 1757, facecolor="white", edgecolor="black", lw=0.5, hatch="xxx")

# horizontal wind
ftext(1125, 1814, "Horizontal wind / Vertical wind shear", ha="center")
ax_wind = ax_px(241, 1829.6, 2009, 2462.7)
ax_wind.contourf(hours, pressure, wind_speed, levels=speed_bounds, colors=speed_colors)
ws = ax_wind.contour(hours, pressure, wind_speed, levels=speed_lines, colors="#1a2a55", linewidths=0.45)
ax_wind.set_ylim(926, 500)
hour_axis(ax_wind)
ax_wind.clabel(ws, fmt="%d", fontsize=7.5, colors="black", manual=speed_label_spots)
sh = ax_wind.contour(hours, pressure, shear, levels=shear_levels, colors=shear_colors, linewidths=1.8)
ax_wind.clabel(sh, fmt="%.1f", fontsize=7.5, manual=shear_label_spots)
adir = np.radians(np.array(arrow_dir))
ax_wind.quiver(arrow_hours, pressure, np.cos(adir), np.sin(adir), angles="uv", pivot="mid", units="dots",
               scale_units="dots", scale=1 / 22, width=2.2, headwidth=3.4, headlength=5, headaxislength=4.4,
               color="#5a5050", zorder=3)
pressure_axis(ax_wind)
ftext(121, 2148, "Altitude approx.", rotation=90, ha="center")
ftext(2068, 2148, "Pressure (hPa)", rotation=90, ha="center")

ftext(43, 2506, "Last update: 2026-08-15 11:14", color="#888888", fontsize=9.9)
ftext(382, 2507, "Wind speed (m/s)", fontsize=9.2)
strip(594, 2493, 1301, 2512, speed_strip_colors, speed_strip_labels)
ftext(1355, 2507, "Wind shear (m/s per 100 m)", fontsize=9.2)
strip(1655, 2493, 2009, 2512, shear_strip_colors, shear_strip_labels)

fig.savefig("out.png", dpi=DPI, facecolor=BG)
